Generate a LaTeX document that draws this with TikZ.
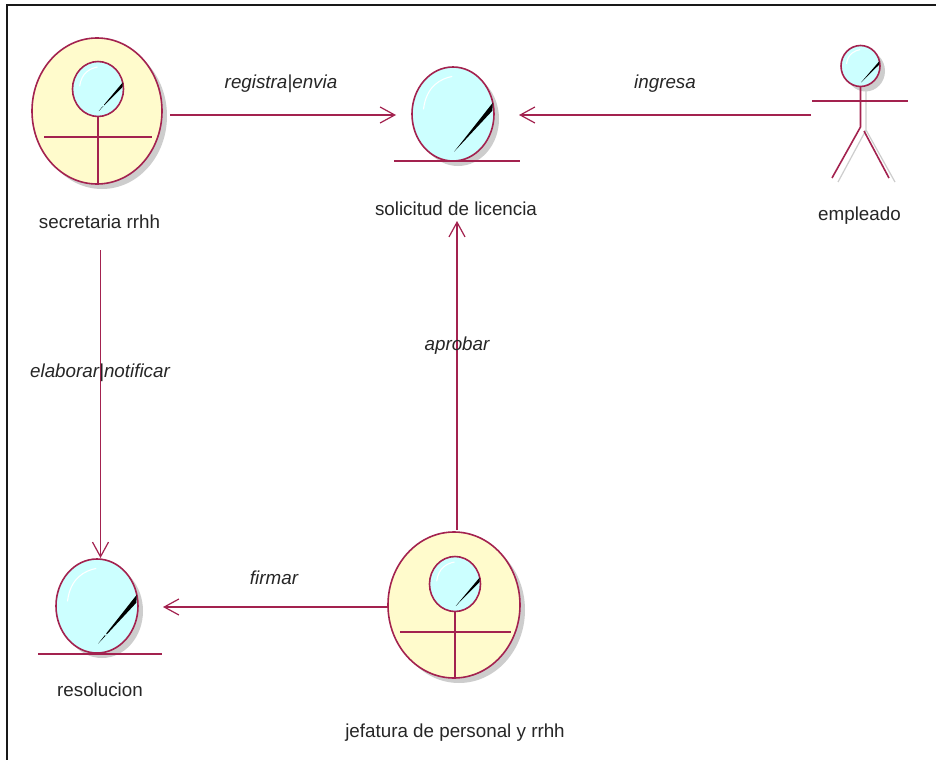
\documentclass[tikz,border=0pt]{standalone}
\usepackage{fontspec}
\setmainfont{Liberation Sans}
\usetikzlibrary{arrows.meta}
\definecolor{mar}{HTML}{A3224F}
\definecolor{lblue}{HTML}{CCFFFF}
\definecolor{lyel}{HTML}{FFFBCC}
\definecolor{shad}{HTML}{CDCDCD}
\tikzset{
  x=0.75pt,y=-0.75pt,
  ln/.style={draw=mar,line width=1.2pt},
  conn/.style={ln,-{Straight Barb[length=11pt,width=12pt,line width=0.9pt]}},
  lab/.style={font=\fontsize{14.1}{16}\selectfont,text=black!85,inner sep=0pt,anchor=base},
  rel/.style={lab,font=\fontsize{14.1}{16}\selectfont\itshape},
}
\newcommand{\orbshadow}[4]{\fill[shad] (#1+5,#2+5) ellipse [x radius=#3,y radius=#4];}
\newcommand{\orb}[4]{% cx cy rx ry
  \draw[ln,fill=lblue] (#1,#2) ellipse [x radius=#3,y radius=#4];
  \draw[white,line width=0.8pt] ({#1-0.72*#3},{#2-0.1*#4}) .. controls ({#1-0.65*#3},{#2-0.6*#4}) and ({#1-0.3*#3},{#2-0.75*#4}) .. ({#1-0.02*#3},{#2-0.8*#4});
  \fill[black] ({#1+0.97*#3},{#2-0.24*#4}) -- ({#1+0.96*#3},{#2-0.07*#4}) -- ({#1+0.03*#3},{#2+0.8*#4}) -- cycle;
}
\newcommand{\orbgap}[4]{\draw[lblue,line width=1.6pt] ({#1+0.12*#3},{#2+0.5*#4}) -- ({#1+0.22*#3},{#2+0.62*#4});}
\begin{document}
\begin{tikzpicture}
\useasboundingbox (0,0) rectangle (936,760);
\fill[white] (0,0) rectangle (936,760);
\draw[black!90,line width=1.7pt] (7,760) -- (7,5) -- (936,5);
% secretaria
\fill[shad] (102,116) ellipse [x radius=65,y radius=73];
\draw[ln,fill=lyel] (97,111) ellipse [x radius=65,y radius=73];
\orb{98}{89}{25.5}{27.5}
\orbgap{98}{89}{25.5}{27.5}
\draw[ln] (98,117) -- (98,184);
\draw[ln] (44,137) -- (152,137);
\coordinate (secR) at (170,115);
\coordinate (secB) at (100.5,250);
\node[lab] (secl) at (99.5,228) {secretaria rrhh};
% solicitud
\orbshadow{453}{114}{41}{47}
\orb{453}{114}{41}{47}
\draw[ln] (394,161) -- (520,161);
\coordinate (solL) at (396,115);
\coordinate (solR) at (519,115);
\coordinate (solB) at (457,221);
\node[lab] (soll) at (456,215) {solicitud de licencia};
% empleado
\orbshadow{860.5}{66}{19.5}{20.5}
\orb{860.5}{66}{19.5}{20.5}
\draw[shad,line width=0.9pt] (866,87) -- (866,130) (866,130) -- (838,182) (866,130) -- (895,182);
\draw[ln] (860.5,87) -- (860.5,127) (860.5,127) -- (832,178) (864,131) -- (889,178);
\draw[ln] (812,101) -- (908,101);
\coordinate (empL) at (811,115);
\node[lab] (empl) at (859.5,220) {empleado};
% resolucion
\orbshadow{97}{606}{41}{47}
\orb{97}{606}{41}{47}
\orbgap{97}{606}{41}{47}
\draw[ln] (38,654) -- (162,654);
\coordinate (resT) at (100.5,558);
\coordinate (resR) at (163,607);
\node[lab] (resl) at (100,696) {resolucion};
% jefatura
\fill[shad] (459,610) ellipse [x radius=66,y radius=73];
\draw[ln,fill=lyel] (454,605) ellipse [x radius=66,y radius=73];
\orb{455}{584}{25.5}{27.5}
\draw[ln] (455,611) -- (455,678);
\draw[ln] (400,632) -- (511,632);
\coordinate (jefT) at (457,530);
\coordinate (jefL) at (388,607);
\node[lab] (jefl) at (455,737) {jefatura de personal y rrhh};
% connectors
\draw[conn] (secR) -- (solL);
\draw[conn] (empL) -- (solR);
\draw[conn] (jefT) -- (solB);
\draw[conn] (jefL) -- (resR);
\draw[conn] (secB) -- (resT);
\node[rel] (l1) at (281,88) {registra|envia};
\node[rel] (l2) at (665,88) {ingresa};
\node[rel] (l3) at (457,350) {aprobar};
\node[rel] (l4) at (100,377) {elaborar|notificar};
\node[rel] (l5) at (274,584) {firmar};
\end{tikzpicture}
\end{document}
